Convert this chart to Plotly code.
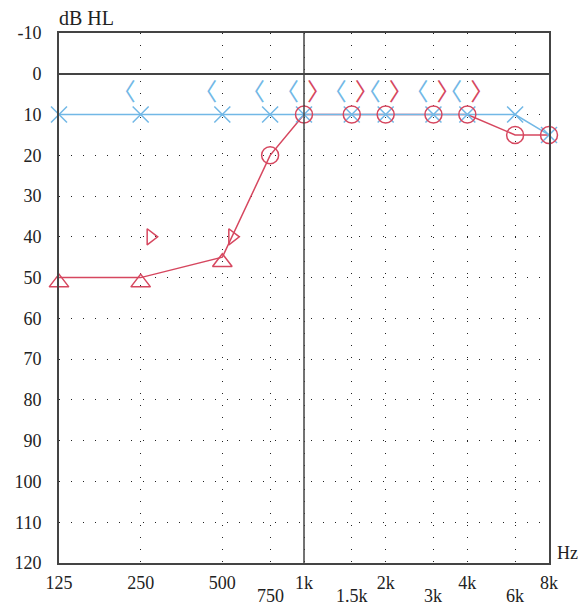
import numpy as np
import plotly.graph_objects as go

# ---------------- data ----------------
freq_labels_main = [125, 250, 500, 1000, 2000, 4000, 8000]
freq_text_main = ["125", "250", "500", "1k", "2k", "4k", "8k"]
freq_labels_low = [750, 1500, 3000, 6000]
freq_text_low = ["750", "1.5k", "3k", "6k"]
grid_freqs = [250, 500, 750, 1500, 2000, 3000, 4000, 6000]

db_ticks = list(range(-10, 121, 10))
db_tick_text = [str(v) for v in db_ticks]

# left ear air (blue X)
left_air_f = [125, 250, 500, 750, 1000, 1500, 2000, 3000, 4000, 6000, 8000]
left_air_db = [10, 10, 10, 10, 10, 10, 10, 10, 10, 10, 15]
# left bone (blue <)
left_bone_f = [250, 500, 750, 1000, 1500, 2000, 3000, 4000]
left_bone_db = [5, 5, 5, 5, 5, 5, 5, 5]
# right ear masked air (red triangles)
right_masked_f = [125, 250, 500]
right_masked_db = [50, 50, 45]
# right ear air (red circles)
right_air_f = [750, 1000, 1500, 2000, 3000, 4000, 6000, 8000]
right_air_db = [20, 10, 10, 10, 10, 10, 15, 15]
# right bone (red >)
right_bone_f = [1000, 1500, 2000, 3000, 4000]
right_bone_db = [5, 5, 5, 5, 5]
# right masked bone (red open triangle right)
right_mbone_f = [250, 500]
right_mbone_db = [40, 40]

BLUE = "#72b8e6"
RED = "#d6475f"
AX = "#444444"
TXT = "#222222"
FONT = "Liberation Serif"

F_LO, F_HI = 125, 8000
DB_TOP, DB_BOT = -10, 120
PAGE_OFFSET = 8  # browser body margin
W, H = 586 - PAGE_OFFSET, 606 - PAGE_OFFSET
ML, MR, MT, MB = 59 - PAGE_OFFSET, 37, 33 - PAGE_OFFSET, 43
PW = W - ML - MR
PH = H - MT - MB
LOG_SPAN = np.log10(F_HI) - np.log10(F_LO)


def shifted_range(px):
    """x axis range so that points appear shifted by px pixels (positive = right)"""
    d = px / PW * LOG_SPAN
    return [np.log10(F_LO) - d, np.log10(F_HI) - d]


def shifted_yrange(px):
    """y axis range so that symbols appear shifted by px pixels (positive = down)"""
    d = px / PH * (DB_BOT - DB_TOP)
    return [DB_BOT - d, DB_TOP - d]


fig = go.Figure()

# red line through all right-ear air points
red_line_f = right_masked_f + right_air_f
red_line_db = right_masked_db + right_air_db
fig.add_trace(go.Scatter(x=red_line_f, y=red_line_db, mode="lines",
                         line=dict(color=RED, width=1.5), hoverinfo="skip"))
fig.add_trace(go.Scatter(x=left_air_f, y=left_air_db, mode="lines+markers",
                         line=dict(color=BLUE, width=1.5), cliponaxis=False,
                         marker=dict(symbol="x-thin-open", size=16, color=BLUE,
                                     line=dict(color=BLUE, width=1.5))))
fig.add_trace(go.Scatter(x=right_masked_f, y=right_masked_db, mode="markers",
                         cliponaxis=False, xaxis="x", yaxis="y3",
                         marker=dict(symbol="triangle-up-open", size=17, color=RED,
                                     line=dict(color=RED, width=1.5))))
fig.add_trace(go.Scatter(x=right_air_f, y=right_air_db, mode="markers",
                         cliponaxis=False,
                         marker=dict(symbol="circle-open", size=17, color=RED,
                                     line=dict(color=RED, width=1.5))))

# bone conduction symbols on shifted overlay axes
fig.add_trace(go.Scatter(x=left_bone_f, y=left_bone_db, mode="text",
                         text=["〈"] * len(left_bone_f), cliponaxis=False,
                         textfont=dict(family="Noto Sans CJK SC", size=24, color=BLUE),
                         xaxis="x2", textposition="middle center"))
fig.add_trace(go.Scatter(x=right_bone_f, y=right_bone_db, mode="text",
                         text=["〉"] * len(right_bone_f), cliponaxis=False,
                         textfont=dict(family="Noto Sans CJK SC", size=24, color=RED),
                         xaxis="x3", textposition="middle center"))
fig.add_trace(go.Scatter(x=right_mbone_f, y=right_mbone_db, mode="markers",
                         cliponaxis=False,
                         marker=dict(symbol="triangle-right-open", size=14, color=RED,
                                     line=dict(color=RED, width=1.5)),
                         xaxis="x4"))

grid_style = dict(showgrid=True, gridcolor="#222222", gridwidth=1, griddash="1px,11px")

fig.update_layout(
    width=W, height=H,
    margin=dict(l=ML, r=MR, t=MT, b=MB),
    paper_bgcolor="white", plot_bgcolor="white",
    showlegend=False,
    font=dict(family=FONT, size=18, color=TXT),
    xaxis=dict(type="log", range=[np.log10(F_LO), np.log10(F_HI)],
               tickvals=freq_labels_main + grid_freqs,
               ticktext=freq_text_main + [""] * len(grid_freqs),
               ticks="", showline=True, mirror=True, linecolor=AX, linewidth=2,
               zeroline=False, ticklabelstandoff=2, automargin=False,
               tickfont=dict(family=FONT, size=18, color=TXT),
               **grid_style),
    yaxis=dict(range=[DB_BOT, DB_TOP], tickvals=db_ticks, ticktext=db_tick_text, ticks="",
               showline=True, mirror=True, linecolor=AX, linewidth=2,
               zeroline=True, zerolinecolor=AX, zerolinewidth=1.5,
               ticklabelstandoff=12, automargin=False,
               tickfont=dict(family=FONT, size=18, color=TXT),
               **grid_style),
    xaxis2=dict(type="log", range=shifted_range(-17), overlaying="x", visible=False),
    xaxis3=dict(type="log", range=shifted_range(15), overlaying="x", visible=False),
    xaxis4=dict(type="log", range=shifted_range(10), overlaying="x", visible=False),
    yaxis3=dict(range=shifted_yrange(5), overlaying="y", visible=False),
)

# solid 1k vertical line
fig.add_shape(type="line", xref="x", yref="paper", x0=1000, x1=1000, y0=0, y1=1,
              line=dict(color=AX, width=1.5), layer="above")

# lower-row frequency labels
for f, t in zip(freq_labels_low, freq_text_low):
    fig.add_annotation(x=np.log10(f), y=0, xref="x", yref="paper", text=t,
                       showarrow=False, yanchor="top", yshift=-21,
                       font=dict(family=FONT, size=18, color=TXT))

fig.add_annotation(x=0, y=1, xref="paper", yref="paper", text="dB HL",
                   showarrow=False, xanchor="left", yanchor="bottom", yshift=2, xshift=-2,
                   font=dict(family=FONT, size=20, color=TXT))
fig.add_annotation(x=1, y=0, xref="paper", yref="paper", text="Hz",
                   showarrow=False, xanchor="left", yanchor="bottom", xshift=6, yshift=-2,
                   font=dict(family=FONT, size=18, color=TXT))

fig.write_html("out.html")
